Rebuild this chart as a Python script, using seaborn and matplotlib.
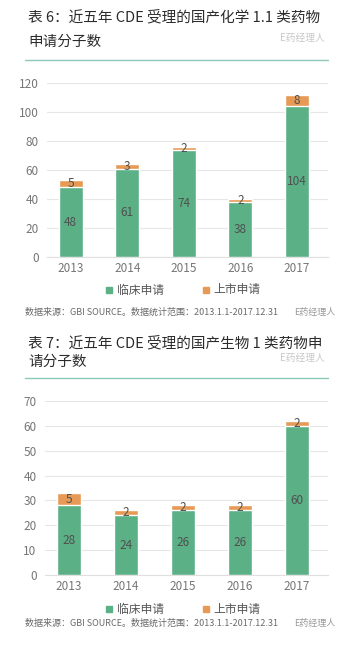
import matplotlib
matplotlib.use("Agg")
import matplotlib.pyplot as plt
import seaborn as sns
import pandas as pd
from matplotlib.lines import Line2D
from matplotlib.patches import Rectangle

years = ["2013", "2014", "2015", "2016", "2017"]
chem_clinical = [48, 61, 74, 38, 104]
chem_market = [5, 3, 2, 2, 8]
bio_clinical = [28, 24, 26, 26, 60]
bio_market = [5, 2, 2, 2, 2]

title1 = ["表 6：近五年 CDE 受理的国产化学 1.1 类药物", "申请分子数"]
title2 = ["表 7：近五年 CDE 受理的国产生物 1 类药物申", "请分子数"]
legend_labels = ["临床申请", "上市申请"]
source_text = "数据来源：GBI SOURCE。数据统计范围：2013.1.1-2017.12.31"
watermark = "E药经理人"

GREEN = "#5bb086"
ORANGE = "#e69a55"
W, H = 359, 648

sns.set_style("white")
plt.rcParams["font.family"] = ["Noto Sans CJK SC", "DejaVu Sans"]

fig = plt.figure(figsize=(W / 100, H / 100), dpi=100)


def fx(px):
    return px / W


def fy(py):
    return 1 - py / H


def panel(ax, clinical, market, ymax, step):
    df = pd.DataFrame({"year": years, "clinical": clinical, "market": market})
    df["total"] = df["clinical"] + df["market"]
    sns.barplot(data=df, x="year", y="total", color=ORANGE, width=0.42,
                saturation=1, ax=ax, zorder=3)
    sns.barplot(data=df, x="year", y="clinical", color=GREEN, width=0.42,
                saturation=1, ax=ax, zorder=3)
    for i, r in df.iterrows():
        ax.text(i, r["clinical"] / 2, str(r["clinical"]), ha="center", va="center",
                fontsize=8.5, color="#505050", zorder=4)
        ax.text(i, r["clinical"] + r["market"] / 2, str(r["market"]), ha="center",
                va="center", fontsize=8.5, color="#505050", zorder=4)
    ax.set_ylim(0, ymax)
    ax.set_xlim(-0.42, 4.55)
    ax.set_yticks(range(0, ymax + 1, step))
    ax.yaxis.grid(True, color="#e6e6e6", linewidth=0.8, zorder=0)
    ax.set_axisbelow(True)
    for s in ax.spines.values():
        s.set_visible(False)
    ax.spines["bottom"].set_visible(True)
    ax.spines["bottom"].set_color("#e0e0e0")
    ax.tick_params(axis="both", length=0, labelsize=8.5, labelcolor="#767676")
    ax.tick_params(axis="y", pad=6)
    ax.set_xlabel("")
    ax.set_ylabel("")


def header(lines, y1, y2, ysep):
    fig.text(fx(28), fy(y1), lines[0], fontsize=10.5, color="#2b2b2b", va="center")
    fig.text(fx(28), fy(y2), lines[1], fontsize=10.5, color="#2b2b2b", va="center")
    fig.add_artist(Line2D([fx(25), fx(328)], [fy(ysep), fy(ysep)],
                          color="#8cc8b8", linewidth=1.0))
    fig.text(fx(280), fy(y2 - 4), watermark, fontsize=7, color="#c8c8c8", va="center")


def footer(yleg, ysrc):
    sq = 6
    fig.add_artist(Rectangle((fx(106), fy(yleg + sq / 2)), sq / W, sq / H,
                             color=GREEN, transform=fig.transFigure))
    fig.text(fx(117), fy(yleg), legend_labels[0], fontsize=8.5, color="#555555", va="center")
    fig.add_artist(Rectangle((fx(203), fy(yleg + sq / 2)), sq / W, sq / H,
                             color=ORANGE, transform=fig.transFigure))
    fig.text(fx(213), fy(yleg), legend_labels[1], fontsize=8.5, color="#555555", va="center")
    fig.text(fx(25), fy(ysrc), source_text, fontsize=6.5, color="#6a6a6a",
             style="italic", va="center")
    fig.text(fx(294), fy(ysrc), watermark, fontsize=6.5, color="#9a9a9a", va="center")


ax1 = fig.add_axes([fx(47), fy(256.7), fx(328) - fx(47), (256.7 - 83.3) / H])
panel(ax1, chem_clinical, chem_market, 120, 20)
header(title1, 17, 42, 60)
footer(290, 312)

ax2 = fig.add_axes([fx(45), fy(575), fx(328) - fx(45), (575 - 401) / H])
panel(ax2, bio_clinical, bio_market, 70, 10)
header(title2, 343, 362, 378)
footer(609, 623)

fig.savefig("out.png", dpi=100)
